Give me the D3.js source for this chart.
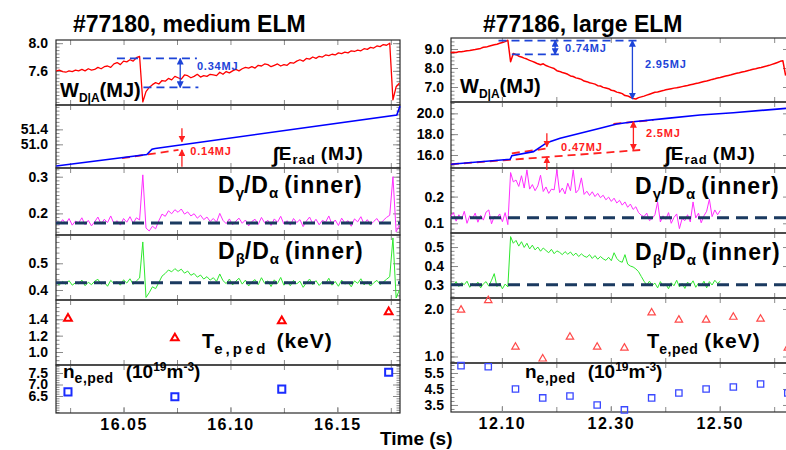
<!DOCTYPE html>
<html lang="en">
<head>
  <meta charset="UTF-8">
  <script src="https://cdn.jsdelivr.net/npm/d3@7"></script>
  <title>ELM comparison</title>
  <style>
    body { margin: 0; background: #fff; }
    svg text { font-family: "Liberation Sans", Arial, Helvetica, sans-serif; font-weight: bold; }
  </style>
</head>
<body>
  <svg id="chart" width="786" height="450"></svg>
  <script>
    /* DATA - #77180 (left), sampled on a regular time grid */
    const leftT0 = 16.0185, leftDt = 0.0015;
    const wLeft = [7.60, 7.61, 7.59, 7.58, 7.60, 7.59, 7.61, 7.60, 7.62, 7.60, 7.63, 7.61, 7.62, 7.65, 7.63, 7.66, 7.67, 7.65, 7.70, 7.72,
      7.69, 7.74, 7.73, 7.76, 7.74, 7.79, 7.81, 7.15, 7.30, 7.36, 7.40, 7.43, 7.41, 7.46, 7.45, 7.49, 7.47, 7.52, 7.50, 7.48,
      7.54, 7.53, 7.50, 7.52, 7.55, 7.51, 7.53, 7.52, 7.55, 7.54, 7.53, 7.58, 7.55, 7.59, 7.57, 7.60, 7.62, 7.60, 7.63, 7.65,
      7.64, 7.66, 7.64, 7.68, 7.67, 7.70, 7.69, 7.66, 7.68, 7.70, 7.67, 7.69, 7.68, 7.72, 7.71, 7.74, 7.76, 7.74, 7.78, 7.77,
      7.80, 7.78, 7.81, 7.80, 7.83, 7.82, 7.84, 7.83, 7.86, 7.85, 7.87, 7.86, 7.89, 7.88, 7.90, 7.89, 7.92, 7.91, 7.94, 7.93,
      7.96, 7.95, 7.98, 7.97, 8.00, 7.18, 7.37, 7.42];
    const dgLeft = [0.178, 0.170, 0.183, 0.172, 0.186, 0.168, 0.179, 0.174, 0.188, 0.169, 0.181, 0.166, 0.177, 0.190, 0.171, 0.184, 0.175, 0.193, 0.172, 0.180,
      0.168, 0.186, 0.176, 0.191, 0.173, 0.188, 0.182, 0.305, 0.160, 0.152, 0.165, 0.158, 0.180, 0.198, 0.192, 0.207, 0.199, 0.210, 0.203, 0.212,
      0.198, 0.204, 0.193, 0.199, 0.187, 0.195, 0.183, 0.190, 0.178, 0.186, 0.176, 0.200, 0.181, 0.172, 0.185, 0.169, 0.179, 0.187, 0.173, 0.182,
      0.166, 0.178, 0.184, 0.170, 0.189, 0.174, 0.181, 0.167, 0.185, 0.176, 0.192, 0.171, 0.180, 0.168, 0.186, 0.175, 0.183, 0.164, 0.179, 0.190,
      0.172, 0.184, 0.169, 0.181, 0.176, 0.193, 0.170, 0.182, 0.167, 0.187, 0.174, 0.180, 0.165, 0.185, 0.177, 0.191, 0.171, 0.183, 0.169, 0.178,
      0.186, 0.172, 0.181, 0.189, 0.195, 0.300, 0.150, 0.168];
    const dbLeft = [0.428, 0.419, 0.432, 0.421, 0.435, 0.418, 0.427, 0.423, 0.437, 0.416, 0.429, 0.420, 0.433, 0.440, 0.422, 0.430, 0.414, 0.436, 0.424, 0.431,
      0.418, 0.438, 0.426, 0.442, 0.421, 0.434, 0.445, 0.580, 0.372, 0.390, 0.412, 0.405, 0.428, 0.452, 0.462, 0.475, 0.468, 0.480, 0.470, 0.478,
      0.463, 0.471, 0.455, 0.462, 0.448, 0.456, 0.441, 0.450, 0.437, 0.446, 0.432, 0.460, 0.435, 0.424, 0.441, 0.419, 0.433, 0.444, 0.422, 0.437,
      0.415, 0.430, 0.439, 0.420, 0.446, 0.425, 0.434, 0.413, 0.438, 0.424, 0.447, 0.418, 0.431, 0.416, 0.436, 0.423, 0.433, 0.410, 0.427, 0.441,
      0.420, 0.435, 0.417, 0.430, 0.424, 0.444, 0.418, 0.432, 0.414, 0.437, 0.422, 0.429, 0.412, 0.434, 0.425, 0.442, 0.419, 0.431, 0.415, 0.427,
      0.436, 0.421, 0.430, 0.440, 0.450, 0.595, 0.370, 0.400];
    const eradLeftT = [16.0185, 16.0609, 16.0633, 16.0648, 16.1778, 16.1793];
    const eradLeft = [50.42, 50.73, 50.87, 50.89, 51.78, 52.02];
    const pedLeftT = [16.024, 16.074, 16.124, 16.174];
    const teLeft = [1.41, 1.17, 1.38, 1.49];
    const neLeft = [6.68, 6.47, 6.80, 7.53];
    const dgLeftLevel = 0.174, dbLeftLevel = 0.427;

    /* DATA - #77186 (right) */
    const rightT0 = 12.006, rightDt = 0.005;
    const wRight = [8.81, 8.83, 8.82, 8.85, 8.86, 8.88, 8.91, 8.92, 8.95, 8.97, 9.00, 9.03, 9.09, 9.10, 9.14, 9.18, 9.22, 9.25, 9.30, 9.34,
      9.39, 9.46, 8.33, 8.76, 8.70, 8.62, 8.58, 8.52, 8.47, 8.40, 8.35, 8.29, 8.22, 8.17, 8.22, 8.13, 8.07, 8.02, 7.97, 7.86,
      7.82, 7.76, 7.72, 7.67, 7.58, 7.55, 7.48, 7.45, 7.40, 7.31, 7.28, 7.22, 7.19, 7.15, 7.07, 7.05, 6.98, 6.95, 6.91, 6.83,
      6.80, 6.73, 6.70, 6.65, 6.55, 6.53, 6.46, 6.40, 6.37, 6.44, 6.48, 6.52, 6.57, 6.62, 6.67, 6.72, 6.74, 6.78, 6.81, 6.85,
      6.88, 6.91, 6.94, 6.96, 6.99, 7.02, 7.05, 7.08, 7.12, 7.15, 7.18, 7.21, 7.25, 7.29, 7.32, 7.36, 7.40, 7.43, 7.47, 7.50,
      7.54, 7.58, 7.61, 7.64, 7.68, 7.72, 7.75, 7.79, 7.82, 7.86, 7.89, 7.93, 7.96, 8.00, 8.03, 8.07, 8.10, 8.14, 8.19, 8.24,
      8.29, 8.35, 8.38, 7.60];
    const dgRight = [0.125, 0.140, 0.108, 0.132, 0.115, 0.145, 0.100, 0.128, 0.118, 0.138, 0.104, 0.130, 0.112, 0.142, 0.150, 0.098, 0.126, 0.120, 0.135, 0.106,
      0.140, 0.095, 0.290, 0.255, 0.262, 0.238, 0.278, 0.232, 0.300, 0.228, 0.245, 0.222, 0.240, 0.280, 0.219, 0.236, 0.212, 0.228, 0.225, 0.300,
      0.215, 0.232, 0.210, 0.250, 0.222, 0.300, 0.214, 0.226, 0.270, 0.208, 0.220, 0.204, 0.218, 0.200, 0.212, 0.196, 0.205, 0.188, 0.198, 0.182,
      0.194, 0.176, 0.186, 0.168, 0.180, 0.160, 0.172, 0.152, 0.162, 0.140, 0.130, 0.125, 0.138, 0.110, 0.118, 0.132, 0.180, 0.105, 0.128, 0.115,
      0.140, 0.100, 0.122, 0.135, 0.080, 0.118, 0.110, 0.132, 0.105, 0.180, 0.120, 0.138, 0.102, 0.128, 0.145, 0.190, 0.125, 0.150, 0.132, 0.148];
    const dbRight = [0.310, 0.298, 0.318, 0.292, 0.312, 0.302, 0.320, 0.288, 0.308, 0.296, 0.315, 0.285, 0.306, 0.318, 0.294, 0.325, 0.360, 0.292, 0.310, 0.280,
      0.305, 0.290, 0.555, 0.520, 0.535, 0.505, 0.528, 0.498, 0.520, 0.490, 0.510, 0.485, 0.500, 0.478, 0.495, 0.482, 0.470, 0.488, 0.465, 0.480,
      0.472, 0.460, 0.476, 0.462, 0.474, 0.455, 0.468, 0.450, 0.464, 0.452, 0.446, 0.460, 0.440, 0.455, 0.436, 0.450, 0.438, 0.430, 0.446, 0.428,
      0.470, 0.440, 0.425, 0.420, 0.460, 0.410, 0.400, 0.395, 0.385, 0.370, 0.345, 0.320, 0.300, 0.320, 0.298, 0.310, 0.285, 0.318, 0.295, 0.305,
      0.280, 0.312, 0.296, 0.325, 0.290, 0.308, 0.282, 0.315, 0.300, 0.322, 0.288, 0.310, 0.295, 0.320, 0.285, 0.318, 0.300, 0.325, 0.308, 0.320];
    const eradRightT = [12.0064, 12.1152, 12.1183, 12.158, 12.1826, 12.207, 12.2437, 12.2804, 12.311, 12.3415, 12.4028, 12.4639, 12.525, 12.6217];
    const eradRight = [15.11, 15.59, 15.93, 16.32, 17.18, 17.60, 18.08, 18.56, 18.98, 19.20, 19.52, 19.84, 20.06, 20.48];
    const pedRightT = [12.025, 12.075, 12.125, 12.175, 12.225, 12.275, 12.325, 12.375, 12.425, 12.475, 12.525, 12.575, 12.625];
    const teRight = [1.98, 2.18, 1.20, 0.95, 1.41, 1.20, 1.18, 1.92, 1.77, 1.77, 1.83, 1.79, 1.18];
    const neRight = [5.96, 5.89, 4.50, 3.94, 4.06, 3.50, 3.19, 3.94, 4.25, 4.50, 4.62, 4.81, 4.25];
    const dgRightLevel = 0.121, dbRightLevel = 0.302;

    /* ANNOTATIONS: dashed guides [t0, v0, t1, v1], arrows [t, from, to, double], notes [t, v, text] */
    const wLeftGuides = [[16.0469, 7.78, 16.0843, 7.78], [16.0593, 7.36, 16.085, 7.36]];
    const wLeftArrows = [[16.0765, 7.78, 7.36, true]];
    const wLeftNotes = [[16.0843, 7.66, "0.34MJ"]];
    const eLeftGuides = [[16.0493, 50.63, 16.0757, 50.85]];
    const eLeftArrows = [[16.0773, 51.43, 51.07, false], [16.0773, 50.40, 50.85, false]];
    const eLeftNotes = [[16.0812, 50.80, "0.14MJ"]];
    const wRightGuides = [[12.0938, 9.44, 12.3477, 9.44], [12.1183, 8.72, 12.207, 8.72]];
    const wRightArrows = [[12.1978, 9.44, 8.72, true], [12.3397, 9.44, 6.37, true]];
    const wRightNotes = [[12.2161, 8.98, "0.74MJ"], [12.363, 8.16, "2.95MJ"]];
    const eRightGuides = [[12.0064, 15.11, 12.354, 16.48], [12.1183, 16.16, 12.1855, 16.64], [12.3048, 18.98, 12.3782, 19.36]];
    const eRightArrows = [[12.1826, 18.08, 16.80, false], [12.1826, 14.56, 15.78, false], [12.3415, 19.20, 16.48, true]];
    const eRightNotes = [[12.2088, 16.70, "0.47MJ"], [12.3648, 18.02, "2.5MJ"]];

    /* AXES */
    const xTicksLeft = [16.025, 16.05, 16.075, 16.10, 16.125, 16.15, 16.175];
    const xLabelsLeft = [16.05, 16.10, 16.15];
    const xTicksRight = [12.1, 12.2, 12.3, 12.4, 12.5, 12.6];
    const xLabelsRight = [12.10, 12.30, 12.50];

    const blue = "#1d44d8", red = "#ff2020", navy = "#1b3a60";
    let svg = d3.select("#chart");

    // arrow heads
    let defs = svg.append("defs");
    [["ahBlue", blue], ["ahRed", red]].forEach(([id, c]) => {
      defs.append("marker").attr("id", id)
        .attr("viewBox", "0 0 8 8").attr("refX", 7).attr("refY", 4)
        .attr("markerWidth", 7).attr("markerHeight", 7)
        .attr("markerUnits", "userSpaceOnUse").attr("orient", "auto-start-reverse")
        .append("path").attr("d", "M0,0 L8,4 L0,8 z").attr("fill", c);
    });

    let xL = d3.scaleLinear().domain([16.0184, 16.1793]).range([56, 400]);
    let xR = d3.scaleLinear().domain([12.0066, 12.6217]).range([451, 786]);

    let leftPanels = [
      { y0: 40, y1: 105, domain: [7.106, 8.046], ticks: [7.6, 8.0], minor: 0.05 },
      { y0: 105, y1: 168, domain: [50.368, 52.05], ticks: [51.0, 51.4], minor: 0.1 },
      { y0: 168, y1: 235, domain: [0.1411, 0.3237], ticks: [0.2, 0.3], minor: 0.01 },
      { y0: 235, y1: 300, domain: [0.3625, 0.606], ticks: [0.4, 0.5], minor: 0.02 },
      { y0: 300, y1: 365, domain: [0.841, 1.636], ticks: [1.0, 1.2, 1.4], minor: 0.05 },
      { y0: 365, y1: 413, domain: [5.761, 7.848], ticks: [6.5, 7.0, 7.5], minor: 0.1 }
    ];
    let rightPanels = [
      { y0: 38, y1: 102, domain: [6.21, 9.579], ticks: [7.0, 8.0, 9.0], minor: 0.2 },
      { y0: 102, y1: 168, domain: [14.75, 21.09], ticks: [16, 18, 20], minor: 0.5 },
      { y0: 168, y1: 233, domain: [0.0637, 0.307], ticks: [0.1, 0.2], minor: 0.02 },
      { y0: 233, y1: 298, domain: [0.2316, 0.574], ticks: [0.3, 0.4, 0.5], minor: 0.02 },
      { y0: 298, y1: 363, domain: [0.863, 2.232], ticks: [1.0, 2.0], minor: 0.1 },
      { y0: 363, y1: 412, domain: [3.06, 6.125], ticks: [3.5, 4.5, 5.5], minor: 0.25 }
    ];

    function styleAxis(g, size) {
      g.attr("color", "#8a8a8a").attr("font-size", size)
        .attr("font-family", '"Liberation Sans", Arial, sans-serif').attr("font-weight", "bold");
      g.select(".domain").remove();
      g.selectAll("text").attr("fill", "#000");
    }

    function drawFrame(x, panels, xTicks, xLabels, pad, xEnd) {
      panels.forEach((p, k) => {
        p.y = d3.scaleLinear().domain(p.domain).range([p.y1, p.y0]);
        let minor = d3.range(Math.ceil(p.domain[0] / p.minor) * p.minor, p.domain[1], p.minor);
        let x0 = x.range()[0];
        svg.append("g").attr("transform", `translate(${x0},0)`)
          .call(d3.axisLeft(p.y).tickValues(minor).tickSize(-3.5).tickFormat(""))
          .call(g => styleAxis(g, 10));
        svg.append("g").attr("transform", `translate(${x0},0)`)
          .call(d3.axisLeft(p.y).tickValues(p.ticks).tickSize(-7).tickPadding(pad).tickFormat(d3.format(".1f")))
          .call(g => styleAxis(g, 14));
        svg.append("g").attr("transform", `translate(${xEnd},0)`)
          .call(d3.axisRight(p.y).tickValues(minor).tickSize(-3.5).tickFormat(""))
          .call(g => styleAxis(g, 10));
        svg.append("g").attr("transform", `translate(${xEnd},0)`)
          .call(d3.axisRight(p.y).tickValues(p.ticks).tickSize(-7).tickFormat(""))
          .call(g => styleAxis(g, 10));
        svg.append("g").attr("transform", `translate(0,${p.y0})`)
          .call(d3.axisTop(x).tickValues(xTicks).tickSize(-5).tickFormat(""))
          .call(g => styleAxis(g, 10));
        svg.append("g").attr("transform", `translate(0,${p.y1})`)
          .call(d3.axisBottom(x).tickValues(xTicks).tickSize(-5).tickFormat(""))
          .call(g => styleAxis(g, 10));
        svg.append("rect")
          .attr("x", x0).attr("y", p.y0)
          .attr("width", xEnd - x0).attr("height", p.y1 - p.y0)
          .attr("fill", "none").attr("stroke", "#2a2a2a").attr("stroke-width", 1.2);
      });
      let last = panels[panels.length - 1];
      svg.append("g").attr("transform", `translate(0,${last.y1})`)
        .call(d3.axisBottom(x).tickValues(xLabels).tickSize(-6).tickPadding(6).tickFormat(d3.format(".2f")))
        .call(g => styleAxis(g, 16))
        .call(g => g.selectAll("text").attr("letter-spacing", 1.5));
    }

    drawFrame(xL, leftPanels, xTicksLeft, xLabelsLeft, 8, 400);
    drawFrame(xR, rightPanels, xTicksRight, xLabelsRight, 7, 790);

    /* PLOT DATA */
    function gridLine(x, y, t0, dt, values, color, width) {
      svg.append("path").datum(values)
        .attr("d", d3.line().x((d, i) => x(t0 + i * dt)).y(d => y(d)))
        .attr("fill", "none").attr("stroke", color).attr("stroke-width", width)
        .attr("stroke-linejoin", "round");
    }

    function pairLine(x, y, ts, values, color, width) {
      svg.append("path").datum(values)
        .attr("d", d3.line().x((d, i) => x(ts[i])).y(d => y(d)))
        .attr("fill", "none").attr("stroke", color).attr("stroke-width", width);
    }

    function level(x, y, v) {
      svg.append("line")
        .attr("x1", x.range()[0]).attr("x2", x.range()[1])
        .attr("y1", y(v)).attr("y2", y(v))
        .attr("stroke", navy).attr("stroke-width", 3).attr("stroke-dasharray", "12,7");
    }

    function markers(x, y, ts, values, type, size, color, width) {
      svg.append("g").selectAll("path").data(values).enter().append("path")
        .attr("transform", (d, i) => `translate(${x(ts[i])},${y(d)})`)
        .attr("d", d3.symbol().type(type).size(size))
        .attr("fill", "none").attr("stroke", color).attr("stroke-width", width);
    }

    function annotate(x, y, guides, arrows, notes, color, marker) {
      guides.forEach(g => {
        svg.append("line")
          .attr("x1", x(g[0])).attr("y1", y(g[1])).attr("x2", x(g[2])).attr("y2", y(g[3]))
          .attr("stroke", color).attr("stroke-width", 1.8).attr("stroke-dasharray", "8,5");
      });
      arrows.forEach(a => {
        let l = svg.append("line")
          .attr("x1", x(a[0])).attr("y1", y(a[1])).attr("x2", x(a[0])).attr("y2", y(a[2]))
          .attr("stroke", color).attr("stroke-width", 1.3)
          .attr("marker-end", `url(#${marker})`);
        if (a[3]) l.attr("marker-start", `url(#${marker})`);
      });
      notes.forEach(n => {
        svg.append("text").text(n[2])
          .attr("x", x(n[0])).attr("y", y(n[1]))
          .attr("dominant-baseline", "middle")
          .attr("font-size", 11).attr("letter-spacing", 0.8).attr("fill", color);
      });
    }

    let [wL, eL, gL, bL, tL, nL] = leftPanels.map(p => p.y);
    let [wR, eR, gR, bR, tR, nR] = rightPanels.map(p => p.y);

    gridLine(xL, wL, leftT0, leftDt, wLeft, "#ff0000", 1.3);
    gridLine(xL, gL, leftT0, leftDt, dgLeft, "#ff2cff", 1);
    gridLine(xL, bL, leftT0, leftDt, dbLeft, "#2ee82e", 1);
    level(xL, gL, dgLeftLevel);
    level(xL, bL, dbLeftLevel);
    annotate(xL, eL, eLeftGuides, [], [], red, "ahRed");
    pairLine(xL, eL, eradLeftT, eradLeft, "#0000ff", 1.6);
    annotate(xL, eL, [], eLeftArrows, eLeftNotes, red, "ahRed");
    annotate(xL, wL, wLeftGuides, wLeftArrows, wLeftNotes, blue, "ahBlue");
    markers(xL, tL, pedLeftT, teLeft, d3.symbolTriangle, 26, "#ff0000", 2);
    markers(xL, nL, pedLeftT, neLeft, d3.symbolSquare, 50, "#1a2cff", 2);

    gridLine(xR, wR, rightT0, rightDt, wRight, "#ff0000", 1.5);
    gridLine(xR, gR, rightT0, rightDt, dgRight, "#ff2cff", 1);
    gridLine(xR, bR, rightT0, rightDt, dbRight, "#2ee82e", 1);
    level(xR, gR, dgRightLevel);
    level(xR, bR, dbRightLevel);
    annotate(xR, eR, eRightGuides, [], [], red, "ahRed");
    pairLine(xR, eR, eradRightT, eradRight, "#0000ff", 1.6);
    annotate(xR, eR, [], eRightArrows, eRightNotes, red, "ahRed");
    annotate(xR, wR, wRightGuides, wRightArrows, wRightNotes, blue, "ahBlue");
    markers(xR, tR, pedRightT, teRight, d3.symbolTriangle, 24, "#ff4a4a", 1.2);
    markers(xR, nR, pedRightT, neRight, d3.symbolSquare, 40, "#3a48ff", 1.3);

    /* LABELS: parts are [text, size, dy, letter-spacing, dx] */
    function richText(x, y, parts) {
      let t = svg.append("text").attr("x", x).attr("y", y).attr("fill", "#000");
      parts.forEach(p => {
        t.append("tspan").text(p[0])
          .attr("font-size", p[1]).attr("dy", p[2] || 0)
          .attr("dx", p[4] || 0).attr("letter-spacing", p[3] || 0);
      });
    }

    richText(73, 32, [["#77180, medium ELM", 23]]);
    richText(483, 32, [["#77186, large ELM", 23]]);
    richText(60, 97, [["W", 20], ["D|A", 12, 5], ["(MJ)", 20, -5]]);
    richText(460, 93, [["W", 20], ["D|A", 12, 5], ["(MJ)", 20, -5]]);
    richText(273, 160, [["\u222B", 21, 2], ["E", 19, -2, 1], ["rad", 13, 4, 1], ["(MJ)", 19, -4, 1, 5]]);
    richText(665, 160, [["\u222B", 21, 2], ["E", 19, -2, 1], ["rad", 13, 4, 1], ["(MJ)", 19, -4, 1, 5]]);
    richText(218, 193, [["D", 23, 0, 1], ["\u03B3", 15, 5], ["/D", 23, -5, 1], ["\u03B1", 15, 5], ["(inner)", 23, -5, 1, 6]]);
    richText(218, 259, [["D", 23, 0, 1], ["\u03B2", 15, 5], ["/D", 23, -5, 1], ["\u03B1", 15, 5], ["(inner)", 23, -5, 1, 6]]);
    richText(635, 194, [["D", 23, 0, 1], ["\u03B3", 15, 5], ["/D", 23, -5, 1], ["\u03B1", 15, 5], ["(inner)", 23, -5, 1, 6]]);
    richText(635, 260, [["D", 23, 0, 1], ["\u03B2", 15, 5], ["/D", 23, -5, 1], ["\u03B1", 15, 5], ["(inner)", 23, -5, 1, 6]]);
    richText(202, 348, [["T", 20], ["e,ped", 15, 6, 3], ["(keV)", 21, -6, 1, 8]]);
    richText(647, 348, [["T", 20], ["e,ped", 14, 6, 0.5], ["(keV)", 21, -6, 1, 6]]);
    richText(63, 378, [["n", 19], ["e,ped", 14, 5, 0.5], ["(10", 19, -5, 0, 12], ["19", 12, -7], ["m", 19, 7], ["-3", 12, -7], [")", 19, 7]]);
    richText(525, 378, [["n", 19], ["e,ped", 14, 5, 0.5], ["(10", 19, -5, 0, 12], ["19", 12, -7], ["m", 19, 7], ["-3", 12, -7], [")", 19, 7]]);
    richText(380, 445, [["Time (s)", 19]]);
  </script>
</body>
</html>
